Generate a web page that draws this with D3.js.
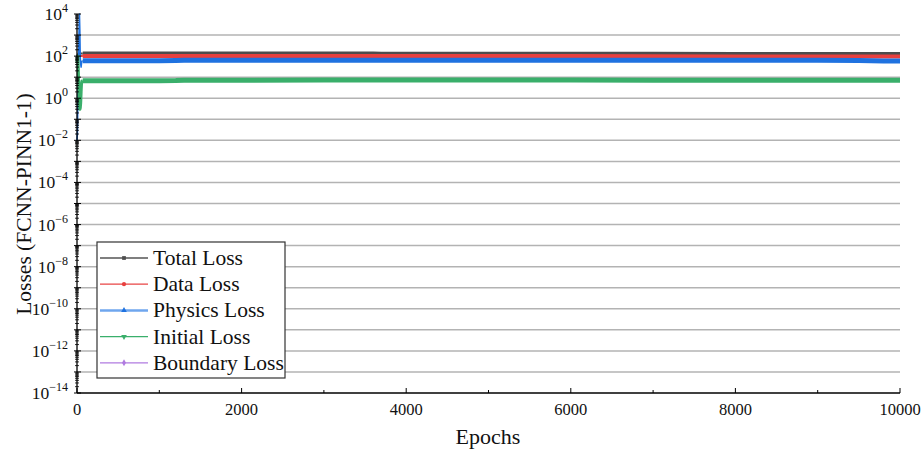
<!DOCTYPE html>
<html>
<head>
<meta charset="utf-8">
<script src="https://cdn.jsdelivr.net/npm/d3@7"></script>
<style>
  html, body { margin: 0; padding: 0; background: #fff; }
</style>
</head>
<body>
<svg id="chart" width="922" height="452" font-family="'Liberation Serif', 'DejaVu Serif', serif"></svg>
<script>
// Training epochs at which losses were logged
const epochs = [0, 5, 10, 15, 20, 25, 30, 35, 40, 45, 50, 55, 60, 70, 80, 100, 500, 1000, 1200, 1300, 2000, 3000, 3600, 3700, 4000, 5000, 6000, 7000, 8000, 9000, 9500, 9800, 10000];

// Loss histories (FCNN-PINN1-1)
const totalLoss    = [90, 110, 120, 125, 130, 132, 135, 135, 133, 132, 132, 132, 132, 132, 132, 132, 132, 132, 132, 132, 132, 132, 132, 128, 128, 128, 128, 128, 126, 126, 126, 126, 126];
const dataLoss     = [60, 80, 95, 100, 100, 100, 100, 100, 100, 100, 100, 100, 100, 100, 100, 100, 100, 100, 100, 100, 100, 100, 100, 100, 100, 100, 100, 98, 96, 96, 96, 96, 96];
const physicsLoss  = [0.01, 0.02, 0.5, 20, 150, 2000, 10000, 1500, 80, 40, 30, 45, 58, 60, 60, 60, 60, 60, 62, 64, 64, 64, 64, 64, 64, 64, 64, 64, 64, 64, 62, 58, 58];
const initialLoss  = [50, 80, 100, 30, 5, 1, 0.4, 0.3, 0.35, 0.6, 2, 5, 6.5, 6.8, 6.8, 6.8, 6.8, 6.8, 6.9, 7.1, 7.1, 7.3, 7.4, 7.4, 7.4, 7.4, 7.3, 7.2, 7.1, 7.1, 7.1, 7.1, 7.1];
// Boundary loss stays at zero, so nothing is plotted for it on a log axis
const boundaryLoss = epochs.map(() => 0);

const seriesNames  = ["Total Loss", "Data Loss", "Physics Loss", "Initial Loss", "Boundary Loss"];
const seriesValues = [totalLoss, dataLoss, physicsLoss, initialLoss, boundaryLoss];
const seriesColors = ["#4d4d4d", "#e8403f", "#1f72e0", "#3aaf6b", "#b07be0"];
const legendColors = ["#555555", "#e84545", "#6fa6ee", "#3aaf6b", "#b07be0"];
const seriesMarkers = [d3.symbolSquare, d3.symbolCircle, d3.symbolTriangle, "down", d3.symbolDiamond];
// Early epochs oscillate sharply (thin trace); later epochs form a dense band
const warmupEnd = 70;
const earlyWidths = [2, 2, 1.5, 3, 2];
const bandWidths = [4, 4, 5, 5, 4];

const xTicks = [0, 2000, 4000, 6000, 8000, 10000];
const yExponents = [4, 2, 0, -2, -4, -6, -8, -10, -12, -14];

const svg = d3.select("#chart");
const mLeft = 77, mRight = 900, mTop = 14, mBottom = 393;

const x = d3.scaleLinear().domain([0, 10000]).range([mLeft, mRight]);
const y = d3.scaleLog().domain([1e-14, 1e4]).range([mBottom, mTop]);

// Horizontal grid at every decade
const decades = d3.range(-13, 4);
svg.append("g").selectAll("line").data(decades).join("line")
  .attr("x1", mLeft).attr("x2", mRight)
  .attr("y1", d => y(Math.pow(10, d))).attr("y2", d => y(Math.pow(10, d)))
  .attr("stroke", "#b3b3b3").attr("stroke-width", 1.5);

// Loss curves
const plot = svg.append("g");
const line = d3.line().x(p => x(p[0])).y(p => y(p[1]));
seriesValues.forEach((vals, i) => {
  const pts = epochs.map((e, k) => [e, vals[k]]).filter(p => p[1] > 0);
  if (!pts.length) return;
  plot.append("path")
    .attr("d", line(pts.filter(p => p[0] >= warmupEnd)))
    .attr("fill", "none").attr("stroke", seriesColors[i])
    .attr("stroke-width", bandWidths[i]).attr("stroke-linejoin", "round");
});
seriesValues.forEach((vals, i) => {
  const pts = epochs.map((e, k) => [e, vals[k]]).filter(p => p[1] > 0 && p[0] <= warmupEnd);
  if (!pts.length) return;
  plot.append("path")
    .attr("d", line(pts))
    .attr("fill", "none").attr("stroke", seriesColors[i])
    .attr("stroke-width", earlyWidths[i]).attr("stroke-linejoin", "round");
});

// Axes
const axes = svg.append("g").attr("stroke", "#000");
axes.append("line").attr("x1", mLeft).attr("x2", mLeft).attr("y1", mTop).attr("y2", mBottom).attr("stroke-width", 1.3);
axes.append("line").attr("x1", mLeft).attr("x2", mRight).attr("y1", mBottom).attr("y2", mBottom).attr("stroke-width", 1.3);

// Y ticks: majors every decade, log minors in between
const yMinor = [];
for (let d = -14; d < 4; d++) for (let m = 2; m <= 9; m++) yMinor.push(m * Math.pow(10, d));
axes.selectAll(".ymin").data(yMinor).join("line")
  .attr("x1", mLeft - 2).attr("x2", mLeft + 2)
  .attr("y1", d => y(d)).attr("y2", d => y(d)).attr("stroke-width", 0.8);
axes.selectAll(".ymaj").data(d3.range(-14, 5)).join("line")
  .attr("x1", mLeft - 3).attr("x2", mLeft + 4)
  .attr("y1", d => y(Math.pow(10, d))).attr("y2", d => y(Math.pow(10, d))).attr("stroke-width", 1);

// X ticks pointing inward
const xMinor = d3.range(1000, 10000, 2000);
axes.selectAll(".xmin").data(xMinor).join("line")
  .attr("x1", d => x(d)).attr("x2", d => x(d)).attr("y1", mBottom).attr("y2", mBottom - 3).attr("stroke-width", 1);
axes.selectAll(".xmaj").data(xTicks).join("line")
  .attr("x1", d => x(d)).attr("x2", d => x(d)).attr("y1", mBottom).attr("y2", mBottom - 5).attr("stroke-width", 1);

// Tick labels
svg.append("g").selectAll("text").data(xTicks).join("text")
  .attr("x", d => x(d)).attr("y", 415).attr("fill", "#111")
  .attr("text-anchor", "middle").attr("font-size", 16.5)
  .text(d => d);

const yl = svg.append("g").selectAll("text").data(yExponents).join("text")
  .attr("x", 68).attr("y", d => y(Math.pow(10, d)) + 6).attr("fill", "#111")
  .attr("text-anchor", "end").attr("font-size", 17.5);
yl.append("tspan").text("10");
yl.append("tspan").attr("dy", -8).attr("font-size", 12).text(d => d < 0 ? "\u2212" + Math.abs(d) : d);

// Axis titles
svg.append("text").attr("x", 488).attr("y", 444).attr("text-anchor", "middle").attr("font-size", 22).attr("fill", "#111").text("Epochs");
svg.append("text").attr("transform", "translate(31,204) rotate(-90)").attr("text-anchor", "middle").attr("font-size", 21.5).attr("fill", "#111").text("Losses (FCNN-PINN1-1)");

// Legend
const lg = svg.append("g");
lg.append("rect").attr("x", 97).attr("y", 242).attr("width", 188).attr("height", 136)
  .attr("fill", "#fff").attr("stroke", "#333").attr("stroke-width", 1.2);
seriesNames.forEach((name, i) => {
  const cy = 258 + i * 26.2;
  lg.append("line").attr("x1", 100).attr("x2", 148).attr("y1", cy).attr("y2", cy)
    .attr("stroke", legendColors[i]).attr("stroke-width", i === 2 ? 2.5 : 1.3);
  const mk = seriesMarkers[i];
  if (mk === "down") {
    lg.append("path").attr("d", d3.symbol(d3.symbolTriangle, 14)())
      .attr("transform", `translate(124,${cy}) rotate(180)`).attr("fill", seriesColors[i]);
  } else {
    lg.append("path").attr("d", d3.symbol(mk, 14)())
      .attr("transform", `translate(124,${cy})`).attr("fill", seriesColors[i]);
  }
  lg.append("text").attr("x", 153).attr("y", cy + 7).attr("font-size", 21.5).attr("fill", "#111").text(name);
});
</script>
</body>
</html>
